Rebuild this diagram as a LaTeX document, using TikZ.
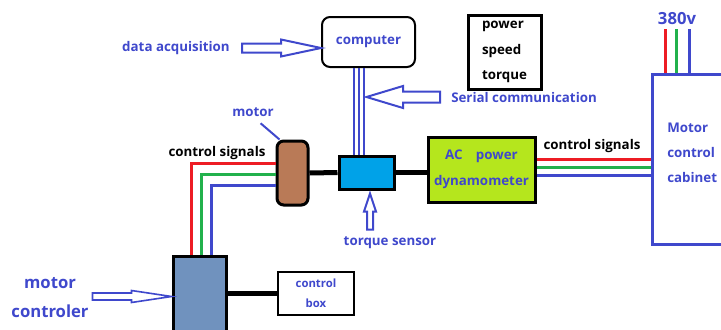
\documentclass[tikz,border=0pt]{standalone}
\usepackage{fontspec}
\setmainfont{Open Sans}
\usetikzlibrary{calc}
\definecolor{penblue}{HTML}{3F48CC}
\definecolor{penred}{HTML}{ED1C24}
\definecolor{pengreen}{HTML}{22B14C}
\definecolor{skyblue}{HTML}{00A2E8}
\definecolor{limegreen}{HTML}{B5E61D}
\definecolor{motorbrown}{HTML}{B97A57}
\definecolor{ctrlblue}{HTML}{7092BE}
\begin{document}
\begin{tikzpicture}[x=0.75pt,y=-0.75pt,
	font=\bfseries\fontsize{10}{18.75}\selectfont,
	lbl/.style={text=penblue,inner sep=0pt},
	blk/.style={text=black,inner sep=0pt},
	box/.style={draw=black,line width=2.25pt,inner sep=0pt},
	shaft/.style={draw=black,line width=3.75pt},
	redw/.style={draw=penred,line width=2.25pt},
	greenw/.style={draw=pengreen,line width=2.25pt},
	bluew/.style={draw=penblue,line width=2.25pt},
	hollow/.style={draw=penblue,line width=1.5pt,line join=miter}]
	% --- Parameters ---
	\def\px{0.75pt}      % one pixel of the sketch
	\useasboundingbox (0,0) rectangle (721,329);
	% --- Computer and info box ---
	\node[box,line width=1.5pt,rounded corners=6pt,minimum width=93*\px,minimum height=50*\px,text=penblue] (pc) at (368.5,42) {computer};
	\node[box,minimum width=73*\px,minimum height=74*\px,align=left,font=\bfseries\fontsize{10}{19}\selectfont] (pst) at (504.5,52) {power\\speed\\torque};
	% --- Test bench row ---
	\node[box,fill=motorbrown,rounded corners=5pt,minimum width=31*\px,minimum height=64*\px] (motor) at (292.5,173) {};
	\node[box,fill=skyblue,minimum width=55*\px,minimum height=33*\px] (ts) at (366.5,172.5) {};
	\node[box,fill=limegreen,minimum width=107*\px,minimum height=65*\px,text=penblue,align=center,font=\bfseries\fontsize{10}{19.5}\selectfont] (dyn) at (481.5,169.5) {AC\quad power\\dynamometer};
	% --- Motor control cabinet ---
	\node[draw=penblue,line width=2.25pt,inner sep=0pt,anchor=north west,minimum width=100*\px,minimum height=170*\px] (cab) at (651,73) {};
	\node[lbl,align=left,anchor=west] (cabtext) at (667,153) {Motor\\control\\cabinet};
	\node[lbl,font=\bfseries\fontsize{12.5}{14}\selectfont] (volt) at (677,19) {380v};
	% --- Controller and control box ---
	\node[box,fill=ctrlblue,anchor=north,minimum width=53*\px,minimum height=80*\px] (ctrl) at (199.5,255) {};
	\node[box,line width=1.5pt,fill=white,minimum width=76*\px,minimum height=43*\px,text=penblue,align=center,font=\bfseries\fontsize{8.5}{15}\selectfont] (cbox) at (316,293.5) {control\\box};
	% --- Labels ---
	\node[lbl] (daq) at (176,48) {data acquisition};
	\node[lbl,anchor=west] (serial) at (451,97) {Serial communication};
	\node[lbl] (motorlbl) at (253,112) {motor};
	\node[blk] (csl) at (217,153) {control signals};
	\node[blk] (csr) at (592,146) {control signals};
	\node[lbl] (tsl) at (390,243) {torque sensor};
	\node[lbl,align=center,font=\bfseries\fontsize{12.5}{21.75}\selectfont] (mcl) at (50,298) {motor\\controler};
	% --- Serial lines computer -> torque sensor ---
	\foreach \dx in {-12.5,-7.5,-2.5}
		\draw[draw=penblue,line width=1.5pt] ([xshift=\dx*\px]ts.north) -- ([xshift=\dx*\px]ts.north |- pc.south);
	% --- Shafts ---
	\draw[shaft] (motor.east) -- (ts.west);
	\draw[shaft] (ts.east) -- (ts.east -| dyn.west);
	\draw[shaft] (cbox.west) -- (cbox.west -| ctrl.east);
	% --- Control signals, controller -> motor ---
	\draw[redw] ([xshift=20*\px]ctrl.north west) |- ([yshift=10*\px]motor.west);
	\draw[greenw] ([xshift=30*\px]ctrl.north west) |- ([yshift=-1*\px]motor.west);
	\draw[bluew] ([xshift=40*\px]ctrl.north west) |- ([yshift=-12*\px]motor.west);
	% --- Control signals, dynamometer -> cabinet ---
	\draw[redw] ([yshift=10.5*\px]dyn.east) -- ([yshift=10.5*\px]dyn.east -| cab.west);
	\draw[greenw] ([yshift=2.5*\px]dyn.east) -- ([yshift=2.5*\px]dyn.east -| cab.west);
	\draw[bluew] ([yshift=-5.5*\px]dyn.east) -- ([yshift=-5.5*\px]dyn.east -| cab.west);
	% --- 380v supply ---
	\draw[redw,shorten >=3pt] ([xshift=14*\px]cab.north west) -- ([xshift=14*\px]cab.north west |- volt.south);
	\draw[greenw,shorten >=3pt] ([xshift=25*\px]cab.north west) -- ([xshift=25*\px]cab.north west |- volt.south);
	\draw[bluew,shorten >=3pt] ([xshift=38*\px]cab.north west) -- ([xshift=38*\px]cab.north west |- volt.south);
	% --- Pointer for the motor ---
	\draw[draw=penblue,line width=1.5pt,shorten <=7.5pt] (motorlbl.south) -- ([xshift=4*\px]motor.north west);
	% --- Hollow arrows ---
	\draw[hollow] ([yshift=-6*\px]pc.west) -- ++(-40,-8.5) -- ++(0,4) -- ++(-39,0) -- ++(0,9) -- ++(39,0) -- ++(0,4) -- cycle;
	\draw[hollow] (ts.north |- serial.west) -- ++(36.5,-11) -- ++(0,5.5) -- ++(37,0) -- ++(0,11) -- ++(-37,0) -- ++(0,5.5) -- cycle;
	\draw[hollow] ([xshift=3.5*\px,yshift=-3*\px]ts.south) -- ++(-6,18) -- ++(3,0) -- ++(0,18) -- ++(6,0) -- ++(0,-18) -- ++(3,0) -- cycle;
	\draw[hollow,line width=1.2pt] (ctrl.west) -- ++(-40,-6) -- ++(0,2.5) -- ++(-39,0) -- ++(0,7) -- ++(39,0) -- ++(0,2.5) -- cycle;
\end{tikzpicture}
\end{document}
